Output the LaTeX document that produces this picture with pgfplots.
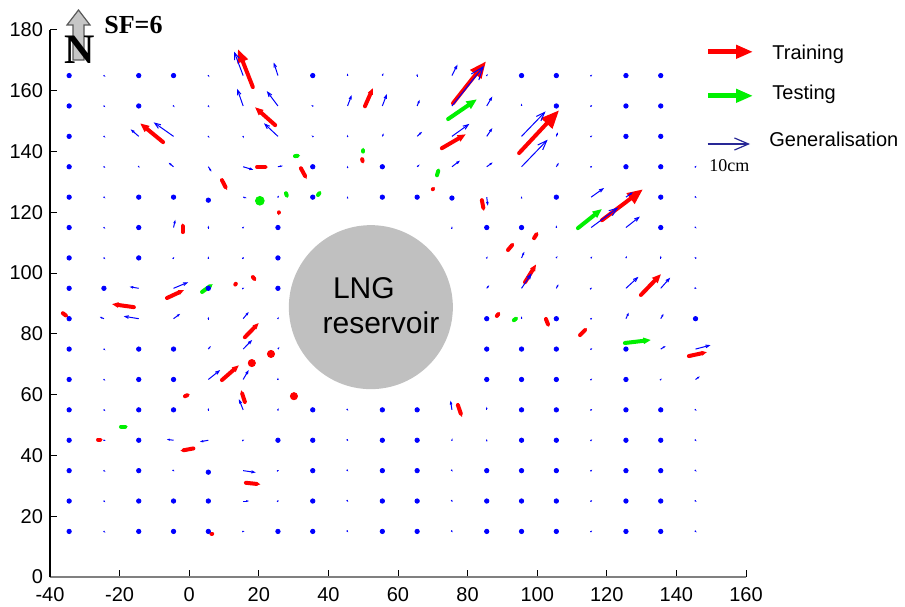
\documentclass[border=0pt]{standalone}
\usepackage{pgfplots}
\pgfplotsset{compat=1.18}
\usepackage{pgfplotstable}
\usetikzlibrary{arrows.meta}
\usepackage{fontspec}
\setmainfont{Liberation Sans}
\newfontfamily\timesf{Liberation Serif}
\definecolor{lng}{RGB}{192,192,192}
\definecolor{mred}{RGB}{255,0,0}
\definecolor{mgreen}{RGB}{0,240,0}
\definecolor{mblue}{RGB}{0,0,255}
\definecolor{navy}{RGB}{40,40,150}

\pgfplotstableread{
x y u v
-24.5 165 0.4 -0.4
5.5 165 0.3 -0.5
15.5 165 -2.6 7.9
25.5 165 -1.2 4.3
45.5 165 0 0.7
55.5 165 0.3 0.8
65.5 165 0 0.6
75.5 165 1.6 3.6
85.5 165 0.3 0.5
115.5 165 0.3 0.3
-24.5 155 0.4 -0.4
-4.5 155 0.3 -0.4
5.5 155 0.3 -0.5
15.5 155 -1.7 5.6
25.5 155 -3.2 4.9
35.5 155 -0.4 0.3
45.5 155 1.2 3.6
55.5 155 1.3 3.9
65.5 155 0.7 2.0
75.5 155 9.2 13.2
85.5 155 1.6 3.1
95.5 155 0 0.8
115.5 155 0.3 0.3
-24.5 145 0.4 -0.4
-14.5 145 -2.3 2.3
-4.5 145 -5.7 4.6
5.5 145 0.3 -0.5
15.5 145 0.1 -0.6
25.5 145 -4.0 4.3
35.5 145 -0.3 0.3
45.5 145 0 0.5
55.5 145 0.4 1.0
65.5 145 1.4 1.5
75.5 145 5.0 4.1
85.5 145 1.6 2.7
95.5 145 6.9 8.2
105.5 145 0.4 1.3
115.5 145 0.3 0.3
-24.5 135 0.4 -0.4
-14.5 135 0.2 -0.4
-4.5 135 -1.4 1.3
5.5 135 0.9 -1.6
15.5 135 2.9 -1.0
25.5 135 1.4 0.3
45.5 135 0 0.3
65.5 135 0.7 0.7
75.5 135 2.3 2.0
85.5 135 1.7 1.4
95.5 135 7.5 8.9
105.5 135 0.7 1.3
115.5 135 0.3 0.3
145.5 135 0.3 0.3
-24.5 125 0.4 -0.4
15.5 125 1.0 -0.3
25.5 125 0.3 0.5
45.5 125 0 0.3
85.5 125 0.3 -2.8
95.5 125 0 0.3
115.5 125 3.7 3.0
125.5 125 2.0 1.6
145.5 125 0.3 -0.3
-24.5 115 0.4 -0.4
-4.5 115 0.5 2.5
5.5 115 0 0.6
15.5 115 0.3 0.3
75.5 115 0 0.4
105.5 115 0 0.7
115.5 115 7.8 6.6
125.5 115 4.0 3.6
145.5 115 0.3 -0.3
-24.5 105 0.4 -0.4
-4.5 105 0.2 0.3
5.5 105 0 0.5
15.5 105 0.2 0.3
85.5 105 0.3 0.4
95.5 105 0.8 2.0
105.5 105 0.3 0.6
115.5 105 0.3 0.5
125.5 105 0.3 0.6
135.5 105 0 0.7
145.5 105 -0.3 0.3
-14.5 95 -2.6 0.5
-4.5 95 4.2 2.0
15.5 95 0.3 0.2
85.5 95 0.7 1.0
95.5 95 2.9 4.9
105.5 95 0.6 1.3
115.5 95 0.2 0.2
125.5 95 3.6 3.8
135.5 95 2.7 3.5
145.5 95 0.3 -0.2
-24.5 85 -1.2 0.6
-14.5 85 -4.3 0.8
-4.5 85 1.9 1.6
5.5 85 0 0.6
15.5 85 1.6 2.2
25.5 85 0.2 0.6
95.5 85 0 0.8
115.5 85 0.3 0.3
125.5 85 0.8 2.0
135.5 85 0.8 1.6
-24.5 75 0.4 -0.4
5.5 75 0.7 1.0
15.5 75 2.6 3.0
25.5 75 0.4 0.7
115.5 75 0.3 0.3
135.5 75 1.4 1.0
145.5 75 4.3 1.3
-24.5 65 0.4 -0.4
5.5 65 3.4 3.1
15.5 65 1.6 3.1
25.5 65 0 0.6
115.5 65 0.3 0.3
135.5 65 0.3 0.3
145.5 65 1.2 1.0
-24.5 55 0.4 -0.4
5.5 55 0 0.6
15.5 55 -1.2 3.5
25.5 55 0.2 0.5
45.5 55 0.2 -0.3
75.5 55 -0.4 3.0
85.5 55 0 1.0
115.5 55 0.3 0.3
145.5 55 0.3 -0.3
-24.5 45 0.5 -0.2
-4.5 45 -1.9 0.3
5.5 45 -2.4 -0.5
15.5 45 0.3 0.2
45.5 45 0.2 -0.3
75.5 45 0.1 0.6
85.5 45 0 0.4
115.5 45 0.3 0.3
145.5 45 0.3 -0.3
-24.5 35 0.4 -0.4
-4.5 35 0.3 -0.2
15.5 35 3.6 -0.6
25.5 35 0.3 0.2
45.5 35 0.2 -0.3
75.5 35 0.2 -0.3
115.5 35 0.3 0.3
145.5 35 0.3 -0.3
-24.5 25 0.4 -0.4
15.5 25 1.7 0
25.5 25 0.3 0.2
45.5 25 0.2 -0.3
75.5 25 0.2 -0.3
115.5 25 0.3 0.3
145.5 25 0.3 -0.3
-24.5 15 0.4 -0.4
15.5 15 0.4 0.1
45.5 15 0.2 -0.3
75.5 15 0.2 -0.3
115.5 15 0.3 0.3
145.5 15 0.3 -0.3
}\bluetab

\pgfplotstableread{
x y u v
18.3 161.2 -4.3 12.5
24.7 148.7 -5.8 5.9
-7.5 143.1 -6.6 6.2
19.5 134.9 3.2 0
9.4 130.6 1.5 -3.3
32.1 134.5 1.7 -3.6
49.7 137.5 0.3 -1.5
50.5 154.9 2.3 6.0
75.8 155.9 9.5 13.8
72.6 141.1 6.9 4.6
94.8 139.5 11.5 14.1
70.0 127.6 0.6 0.7
118.6 117.4 11.8 10.2
84.1 124.0 0.6 -3.6
99.1 111.5 1.1 2.0
91.6 107.6 1.7 2.3
96.5 97.0 3.2 5.9
88.4 85.9 0.9 1.3
102.5 84.9 0.9 -2.6
112.3 79.6 2.0 2.3
129.8 92.8 5.8 6.9
143.6 72.7 5.2 1.3
25.7 120.0 0 -1.0
-1.9 113.5 0 2.9
-6.4 91.8 4.9 2.6
13.4 96.5 0.3 0.5
18.3 98.7 0.9 -1.3
-15.9 88.8 -6.3 1.0
-36.3 86.8 1.5 -1.3
16.0 78.9 4.0 4.7
9.4 64.8 4.9 4.9
16.0 57.6 -1.1 3.9
-1.2 59.5 1.4 0.7
-26.2 45.2 1.4 0
1.2 42.3 -3.8 -0.8
16.3 31.0 4.2 -0.5
6.6 14.3 0.6 0
77.2 56.6 1.2 -4.0
}\redtab

\pgfplotstableread{
x y u v
74.4 150.7 8.3 6.5
30.4 138.5 1.5 0.2
50.0 140.0 0 1.3
71.2 132.2 0.6 2.3
37.0 125.7 0.9 1.3
27.8 126.3 0.5 -1.6
111.7 114.8 6.9 6.3
93.3 84.5 1.2 1.0
125.2 77.0 7.5 1.0
3.7 93.8 3.1 2.6
-19.6 49.5 2.0 0
}\greentab

\begin{document}
\begin{tikzpicture}
\useasboundingbox (-25pt,-14.5pt) rectangle (427.5pt,288.5pt);
\begin{axis}[
  at={(0,0)}, anchor=south west,
  scale only axis, width=348pt, height=273.5pt,
  xmin=-40, xmax=160, ymin=0, ymax=180,
  axis lines*=left,
  axis line style={-},
  x axis line style={draw=gray, line width=1pt},
  y axis line style={draw=black, line width=0.6pt},
  xtick={-40,-20,...,160}, ytick={0,20,...,180},
  tick align=inside,
  major tick length=3.5pt,
  tick style={black, line width=0.5pt},
  ticklabel style={font=\fontsize{10}{12}\selectfont},
  xticklabel style={yshift=-1.5pt},
  /pgf/number format/assume math mode=true,
  clip=false,
  point meta min=0, point meta max=20,
]
% training
\addplot[mred, line width=2pt, line cap=round,
  point meta={sqrt((\thisrow{u})^2+(\thisrow{v})^2)},
  quiver={u=\thisrow{u}, v=\thisrow{v},
    every arrow/.append style={-{Triangle[length=10pt,width=8pt,
      scale length={max(0.15,\pgfplotspointmetatransformed/1000)},
      scale width={max(0.15,\pgfplotspointmetatransformed/1000)}]}}},
] table[x=x,y=y] {\redtab};
% testing
\addplot[mgreen, line width=2pt, line cap=round,
  point meta={sqrt((\thisrow{u})^2+(\thisrow{v})^2)},
  quiver={u=\thisrow{u}, v=\thisrow{v},
    every arrow/.append style={-{Triangle[length=10pt,width=8pt,
      scale length={max(0.15,\pgfplotspointmetatransformed/1000)},
      scale width={max(0.15,\pgfplotspointmetatransformed/1000)}]}}},
] table[x=x,y=y] {\greentab};
% generalisation
\addplot[mblue, line width=0.5pt,
  point meta={sqrt((\thisrow{u})^2+(\thisrow{v})^2)},
  quiver={u=\thisrow{u}, v=\thisrow{v},
    every arrow/.append style={-{Straight Barb[length=8pt,width=6pt,
      scale length={max(0.05,\pgfplotspointmetatransformed/1000)},
      scale width={max(0.05,\pgfplotspointmetatransformed/1000)}]}}},
] table[x=x,y=y] {\bluetab};
% grid points with no displacement
\addplot[only marks, mark=*, mark size=1.1pt, mblue, mark options={draw=mblue, fill=mblue}] coordinates {
(-34.5,165)(-14.5,165)(-4.5,165)(35.5,165)(95.5,165)(105.5,165)(125.5,165)(135.5,165)
(-34.5,155)(-14.5,155)(105.5,155)(125.5,155)(135.5,155)
(-34.5,145)(125.5,145)(135.5,145)
(-34.5,135)(35.5,135)(55.5,135)(125.5,135)(135.5,135)
(-34.5,125)(-14.5,125)(-4.5,125)(5.5,124)(35.5,125)(55.5,125)(65.5,125)(75.5,124.7)(105.5,125)(135.5,125)
(-34.5,115)(-14.5,115)(25.5,115)(85.5,115)(95.5,115)(135.5,115)
(-34.5,105)(-14.5,105)(25.5,105)
(-34.5,95)(-24.5,95)(5.5,95)(25.5,95)
(-34.5,85)(85.5,85)(105.5,85)(145.5,85)
(-34.5,75)(-14.5,75)(-4.5,75)(85.5,75)(95.5,75)(105.5,75)(125.5,75)
(-34.5,65)(-14.5,65)(-4.5,65)(85.5,65)(95.5,65)(105.5,65)(125.5,65)
(-34.5,55)(-14.5,55)(-4.5,55)(35.5,55)(55.5,55)(65.5,55)(95.5,55)(105.5,55)(125.5,55)(135.5,55)
(-34.5,45)(-14.5,45)(25.5,45)(35.5,45)(55.5,45)(65.5,45)(95.5,45)(105.5,45)(125.5,45)(135.5,45)
(-34.5,35)(-14.5,35)(5.5,34.5)(35.5,35)(55.5,35)(65.5,35)(85.5,35)(95.5,35)(105.5,35)(125.5,35)(135.5,35)
(-34.5,25)(-14.5,25)(-4.5,25)(5.5,25)(35.5,25)(55.5,25)(65.5,25)(85.5,25)(95.5,25)(105.5,25)(125.5,25)(135.5,25)
(-34.5,15)(-14.5,15)(-4.5,15)(5.5,15)(25.5,15)(35.5,15)(55.5,15)(65.5,15)(85.5,15)(95.5,15)(105.5,15)(125.5,15)(135.5,15)
};
% zero-length training / testing points
\addplot[only marks, mark=*, mark size=1.8pt, mred, mark options={draw=mred, fill=mred}] coordinates {(18.0,70.4) (23.5,73.4) (30.1,59.5)};
\addplot[only marks, mark=*, mark size=2.2pt, mgreen, mark options={draw=mgreen, fill=mgreen}] coordinates {(20.3,123.8)};
% reservoir
\fill[lng] (axis cs:52.2,88.8) circle[radius=41pt];
\node[font=\fontsize{15}{17}\selectfont] at (axis cs:50.2,95.1) {LNG};
\node[font=\fontsize{15}{17}\selectfont] at (axis cs:55.1,83.6) {reservoir};
\end{axis}
% legend
\draw[mred, line width=2.3pt, -{Triangle[length=8.5pt,width=6.5pt]}] (329pt,262.6pt) -- (351.5pt,262.6pt);
\node[anchor=base west, inner sep=0pt, font=\fontsize{10}{12}\selectfont] at (361pt,258.8pt) {Training};
\draw[mgreen, line width=2.3pt, -{Triangle[length=8.5pt,width=6.5pt]}] (329pt,240.6pt) -- (351.5pt,240.6pt);
\node[anchor=base west, inner sep=0pt, font=\fontsize{10}{12}\selectfont] at (361pt,238.5pt) {Testing};
\draw[navy, line width=0.6pt, -{Straight Barb[length=7pt,width=6pt]}] (328.8pt,216.5pt) -- (350pt,216.5pt);
\node[anchor=base west, inner sep=0pt, font=\fontsize{10}{12}\selectfont] at (359.5pt,215.2pt) {Generalisation};
\node[anchor=base west, inner sep=0pt, font=\timesf\fontsize{9}{11}\selectfont] at (329.5pt,202.7pt) {10cm};
% north arrow and scale factor
\filldraw[fill=gray!45, draw=gray!70!black, line width=0.6pt] (11.5pt,258.5pt) -- (11.5pt,276pt) -- (8.5pt,276pt) -- (14.25pt,283.5pt) -- (20pt,276pt) -- (17pt,276pt) -- (17pt,258.5pt) -- cycle;
\node[anchor=base west, inner sep=0pt, font=\timesf\bfseries\fontsize{21}{23}\selectfont] at (7pt,256.8pt) {N};
\node[anchor=base west, inner sep=0pt, font=\timesf\bfseries\fontsize{13}{15}\selectfont] at (27pt,271.8pt) {SF=6};
\end{tikzpicture}
\end{document}
